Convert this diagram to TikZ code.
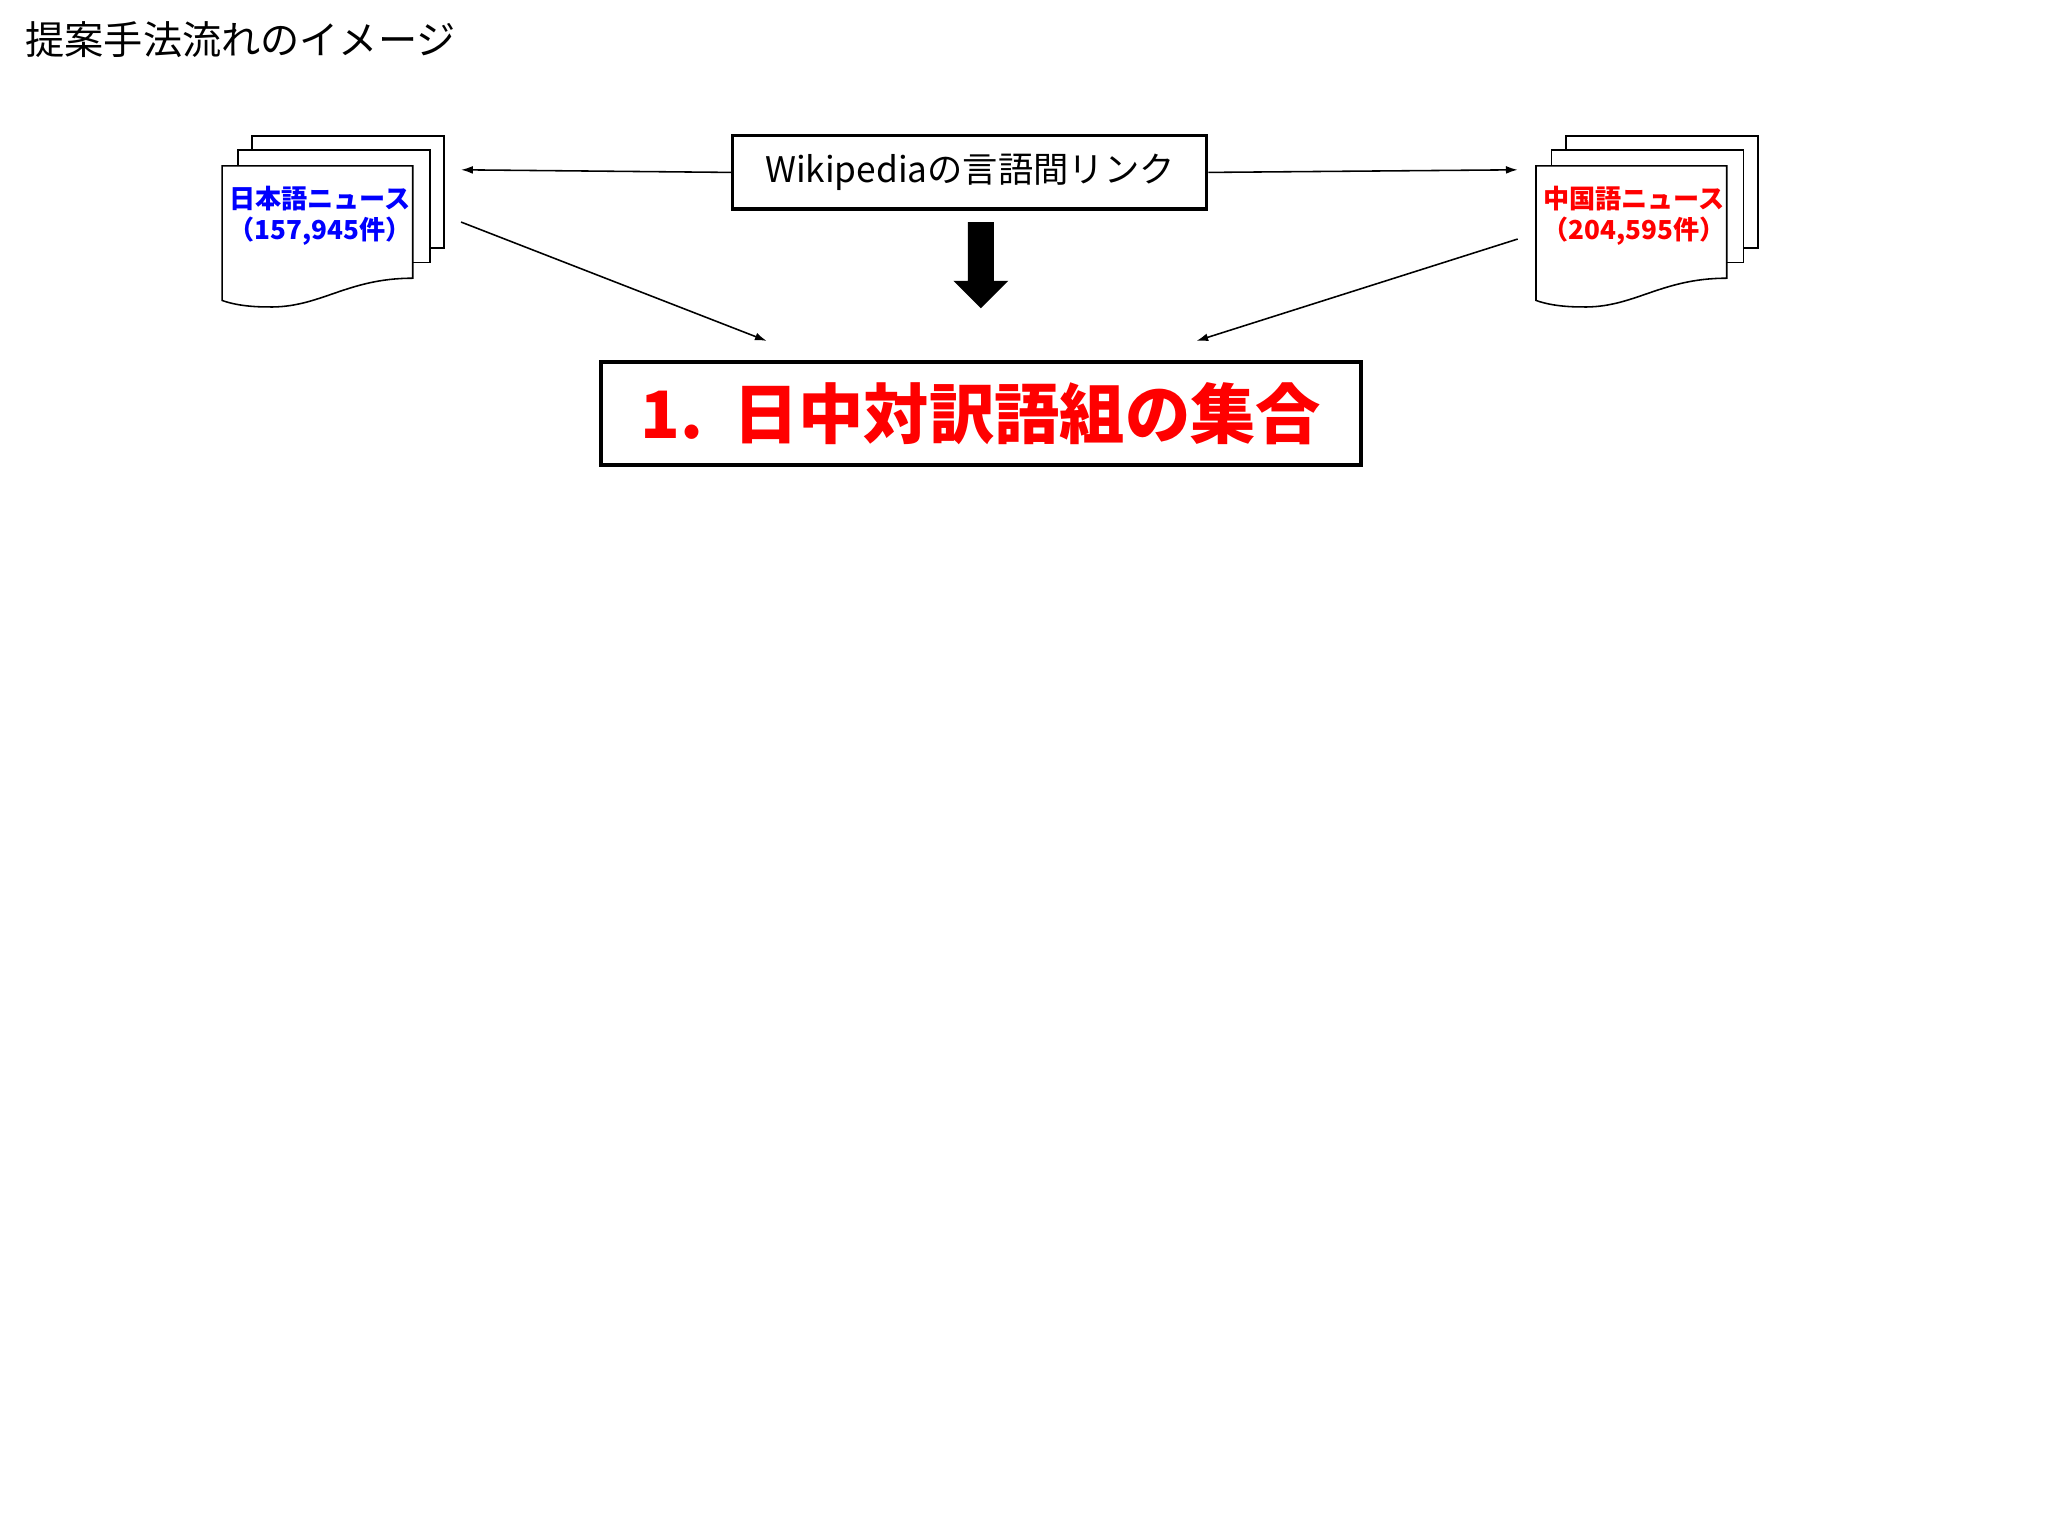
\documentclass[tikz,border=0pt]{standalone}
\usepackage{fontspec}
\setmainfont{Noto Sans CJK JP}
\newfontfamily\latinb{Liberation Sans}
\usetikzlibrary{arrows.meta}
\begin{document}
\begin{tikzpicture}[x=1pt,y=-1pt,
  page/.style={draw=black,line width=1.2pt,fill=white},
  conn/.style={-{Latex[length=9pt,width=6pt]},line width=1.2pt},
  doctext/.style={font=\fontsize{20}{24}\selectfont\bfseries,align=center}]
\useasboundingbox (0,0) rectangle (1568,1176);
\fill[white] (0,0) rectangle (1568,1176);
\node[anchor=west,font=\fontsize{30}{34}\selectfont] (title) at (16,30) {提案手法流れのイメージ};
% wikipedia box
\node[draw,line width=2.4pt,minimum width=363pt,minimum height=56pt,font=\fontsize{27}{30}\selectfont] (wiki) at (742.5,132) {Wikipediaの言語間リンク};
% left docs
\foreach \dx/\dy in {0/0,-11/11}{
  \draw[page] (193+\dx,104+\dy) rectangle (340+\dx,190+\dy);}
\draw[page] (170,127) -- (316,127) -- (316,213) .. controls (265,213) and (245,236) .. (205,235) .. controls (190,235) and (178,233) .. (170,230) -- cycle;
\node[doctext,text=blue] (jp) at (245,165) {日本語ニュース\\（157,945件）};
\coordinate (jpin) at (353,130);
\coordinate (jpout) at (353,170);
% right docs
\foreach \dx/\dy in {0/0,-11/11}{
  \draw[page] (1199+\dx,104+\dy) rectangle (1346+\dx,190+\dy);}
\draw[page] (1176,127) -- (1322,127) -- (1322,213) .. controls (1271,213) and (1251,236) .. (1211,235) .. controls (1196,235) and (1184,233) .. (1176,230) -- cycle;
\node[doctext,text=red] (cn) at (1251,165) {中国語ニュース\\（204,595件）};
\coordinate (cnin) at (1162,130);
\coordinate (cnout) at (1162,183);
% result box
\node[draw,line width=3pt,minimum width=582pt,minimum height=79pt,text=red,font=\fontsize{50}{56}\selectfont\bfseries] (res) at (751,316.5) {1.\ \ 日中対訳語組の集合};
\coordinate (rl) at (587,261);
\coordinate (rr) at (916,261);
% connectors
\draw[conn] (wiki.west) -- (jpin);
\draw[conn] (wiki.east) -- (cnin);
\draw[conn] (jpout) -- (rl);
\draw[conn] (cnout) -- (rr);
\coordinate (ds) at (751,170);
\coordinate (de) at (751,236);
\fill[black] (741,170) -- (761,170) -- (761,215) -- (772,215) -- (751,236) -- (730,215) -- (741,215) -- cycle;
\end{tikzpicture}
\end{document}
